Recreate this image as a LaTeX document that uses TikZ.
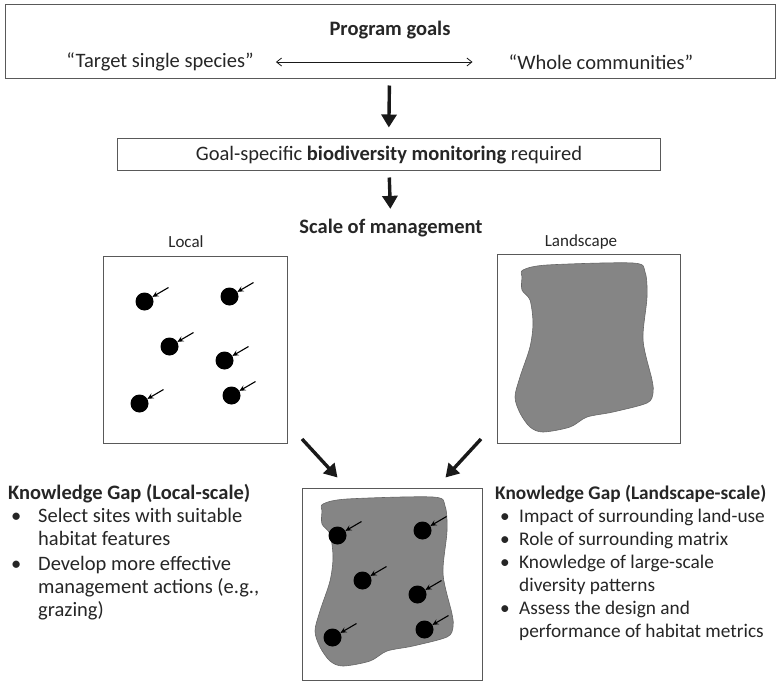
\documentclass[tikz,border=0pt]{standalone}
\usepackage{fontspec}
\setmainfont{Carlito}
\usetikzlibrary{arrows.meta}
\usetikzlibrary{calc}

\newcommand{\habitatblob}{plot[smooth cycle, tension=0.5] coordinates {(26,16) (50,11) (136,9) (148,18) (150,43) (146,86) (155,126) (156,139) (150,149) (116,158) (90,163) (73,173) (46,178) (33,173) (23,159) (18,143) (23,123) (33,93) (36,69) (33,46) (25,36) (25,23)}}

\begin{document}
\begin{tikzpicture}[x=1pt,y=-1pt,
keret/.style={rectangle,draw=black!65,line width=1pt,inner sep=0pt},
szoveg/.style={text=black!85,font=\fontsize{20.5}{23}\selectfont,inner sep=0pt},
folt/.style={fill=black!48,draw=black!60,line width=0.6pt},
pont/.style={circle,fill=black,inner sep=0pt,minimum size=18pt},
vastag/.style={line width=3.4pt,-{Triangle[length=13pt,width=15pt]},black!90},
kicsi/.style={line width=1.1pt,-{Stealth[length=6pt,width=5.5pt]}}]
\clip (0,0) rectangle (778,681);
\fill[white] (0,0) rectangle (778,681);
\node[keret, minimum width=770, minimum height=74](goals) at (390,41){};
\node[szoveg, font=\fontsize{20.5}{23}\selectfont\bfseries](goaltitle) at (390,30){Program goals};
\node[szoveg](single) at (160,62){“Target single species”};
\node[szoveg](whole) at (601,62){“Whole communities”};
\node[keret, minimum width=543, minimum height=32](monitor) at (388.5,154){};
\node[szoveg](monitortext) at (389,155){Goal-specific \textbf{biodiversity monitoring} required};
\node[szoveg, font=\fontsize{20.5}{23}\selectfont\bfseries](scale) at (391,228){Scale of management};
\node[szoveg, font=\fontsize{17}{20}\selectfont](localtext) at (186,242){Local};
\node[szoveg, font=\fontsize{17}{20}\selectfont](landtext) at (581,242){Landscape};
\node[keret, minimum width=184, minimum height=187](local) at (195,349.5){};
\node[keret, minimum width=183, minimum height=189](land) at (588.5,348.5){};
\node[keret, minimum width=180, minimum height=192](both) at (392,584){};
\coordinate(csucs1) at (302,439);
\coordinate(csucs2) at (481,439);
\begin{scope}[shift={(497,254)}]
 \draw[folt] \habitatblob;
\end{scope}
\begin{scope}[shift={(297,488)}]
 \draw[folt] \habitatblob;
\end{scope}
\foreach \dx/\dy [count=\i] in {42/46,127/41,67/91,122/105,37/148,129/140}{
 \node[pont](l\i) at ($(local.north west)+(\dx,\dy)$){};
 \draw[kicsi] ($(l\i)+(24,-14)$)--(l\i);
 \node[pont](b\i) at ($(both.north west)+(\dx-6,\dy+2)$){};
 \draw[kicsi] ($(b\i)+(24,-14)$)--(b\i);
}
\node[szoveg, anchor=north west, align=left](gapleft) at (8,484){\textbf{Knowledge Gap (Local-scale)}\\
\makebox[30pt][l]{\hspace{3pt}\textbullet}Select sites with suitable\\
\hspace*{30pt}habitat features\\[2pt]
\makebox[30pt][l]{\hspace{3pt}\textbullet}Develop more effective\\
\hspace*{30pt}management actions (e.g.,\\
\hspace*{30pt}grazing)};
\node[szoveg, font=\fontsize{19.3}{23}\selectfont, anchor=north west, align=left](gapright) at (495,485){\textbf{Knowledge Gap (Landscape-scale)}\\
\makebox[24pt][l]{\hspace{5pt}\textbullet}Impact of surrounding land-use\\
\makebox[24pt][l]{\hspace{5pt}\textbullet}Role of surrounding matrix\\
\makebox[24pt][l]{\hspace{5pt}\textbullet}Knowledge of large-scale\\
\hspace*{24pt}diversity patterns\\
\makebox[24pt][l]{\hspace{5pt}\textbullet}Assess the design and\\
\hspace*{24pt}performance of habitat metrics};
\begin{scope}[black!90]
 \draw[line width=0.8pt,{Straight Barb[length=5pt,width=8pt]}-{Straight Barb[length=5pt,width=8pt]}, shorten <=22pt, shorten >=36pt] (single.east)--(whole.west);
 \draw[vastag, shorten <=7pt, shorten >=10pt] (goals)--(monitor);
 \draw[vastag, shorten <=7pt, shorten >=10pt] (monitor)--(scale);
 \draw[vastag] (csucs1)--($(both.north west)+(36,-10)$);
 \draw[vastag] (csucs2)--($(both.north east)+(-37,-10)$);
\end{scope}
\end{tikzpicture}
\end{document}
